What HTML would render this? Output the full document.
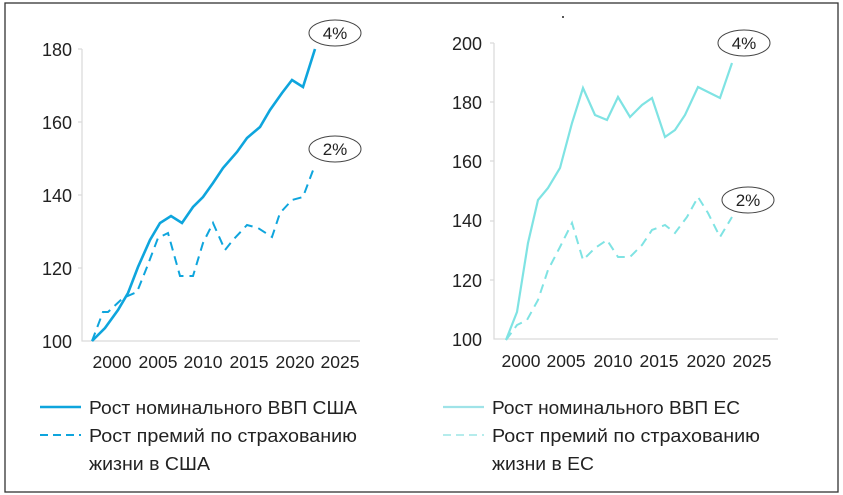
<!DOCTYPE html>
<html><head><meta charset="utf-8"><style>
html,body{margin:0;padding:0;background:#fff;}
svg{display:block;font-family:"Liberation Sans",sans-serif;}
</style></head><body>
<svg width="843" height="495" viewBox="0 0 843 495" xmlns="http://www.w3.org/2000/svg">
<rect x="5" y="3" width="833" height="489" fill="#fff" stroke="#333" stroke-width="1.3"/>
<g stroke="#d9d9d9" stroke-width="1.2" fill="none">
<path d="M82 49 V341 H360"/><path d="M78 49H82M78 122H82M78 195H82M78 268H82"/>
<path d="M494 43 V339 H778"/><path d="M490 43H494M490 102H494M490 161H494M490 221H494M490 280H494"/>
</g>
<g font-size="18" fill="#222" text-anchor="end">
<text x="72" y="56">180</text><text x="72" y="129">160</text><text x="72" y="202">140</text><text x="72" y="275">120</text><text x="72" y="348">100</text>
<text x="482" y="50">200</text><text x="482" y="109">180</text><text x="482" y="168">160</text><text x="482" y="227">140</text><text x="482" y="287">120</text><text x="482" y="346">100</text>
</g>
<g font-size="17.5" fill="#222" text-anchor="middle">
<text x="112" y="368">2000</text><text x="158" y="368">2005</text><text x="203" y="368">2010</text><text x="249" y="368">2015</text><text x="295" y="368">2020</text><text x="340" y="368">2025</text>
<text x="521" y="367">2000</text><text x="566" y="367">2005</text><text x="613" y="367">2010</text><text x="659" y="367">2015</text><text x="706" y="367">2020</text><text x="752" y="367">2025</text>
</g>
<polyline fill="none" stroke="#0ea5dd" stroke-width="2.6" points="92,341 105,328 118,310 128,293 138,267 150,240 160,223 171,216 182,223 193,207 203,197 213,183 223,168 237,152 247,138 260,127 270,110 282,93 292,80 303,87 315,49"/>
<polyline fill="none" stroke="#0ea5dd" stroke-width="2" stroke-dasharray="9,6" points="92,341 103,312 108,312 123,298 137,292 147,267 158,238 168,233 180,276 193,276 203,243 213,223 225,250 233,240 247,225 258,228 272,237 280,213 292,200 303,197 315,165"/>
<polyline fill="none" stroke="#7fe3e3" stroke-width="2.2" points="506,340 517,312 528,243 538,200 548,188 560,168 572,123 583,88 595,115 607,120 618,97 630,117 642,105 652,98 665,137 675,130 685,115 698,87 710,93 720,98 732,63"/>
<polyline fill="none" stroke="#7fe3e3" stroke-width="2" stroke-dasharray="9,6" points="506,340 517,325 527,320 538,300 548,270 560,247 572,223 583,260 595,248 607,240 618,257 630,257 642,245 652,230 665,225 675,233 687,217 698,197 708,213 720,237 732,217"/>
<g fill="#fff" stroke="#444" stroke-width="1">
<ellipse cx="335" cy="33" rx="26" ry="13"/><ellipse cx="335" cy="149" rx="26" ry="13"/>
<ellipse cx="744" cy="43" rx="26" ry="13"/><ellipse cx="748" cy="200" rx="26" ry="13"/>
</g>
<g font-size="17" fill="#222" text-anchor="middle">
<text x="335" y="39">4%</text><text x="335" y="155">2%</text><text x="744" y="49">4%</text><text x="748" y="206">2%</text>
</g>
<circle cx="563" cy="17" r="1" fill="#222"/>
<line x1="40" y1="407" x2="81" y2="407" stroke="#0ea5dd" stroke-width="2.6"/>
<line x1="40" y1="435" x2="81" y2="435" stroke="#0ea5dd" stroke-width="2" stroke-dasharray="8,5"/>
<line x1="443" y1="407" x2="484" y2="407" stroke="#9fe3e8" stroke-width="2.2"/>
<line x1="443" y1="435" x2="484" y2="435" stroke="#b5ecec" stroke-width="2" stroke-dasharray="8,5"/>
<g font-size="18" fill="#222">
<text x="89" y="414" textLength="268" lengthAdjust="spacingAndGlyphs">Рост номинального ВВП США</text>
<text x="89" y="442" textLength="268" lengthAdjust="spacingAndGlyphs">Рост премий по страхованию</text>
<text x="89" y="470" textLength="121" lengthAdjust="spacingAndGlyphs">жизни в США</text>
<text x="492" y="414" textLength="248" lengthAdjust="spacingAndGlyphs">Рост номинального ВВП ЕС</text>
<text x="492" y="442" textLength="268" lengthAdjust="spacingAndGlyphs">Рост премий по страхованию</text>
<text x="492" y="470" textLength="102" lengthAdjust="spacingAndGlyphs">жизни в ЕС</text>
</g>
</svg>
</body></html>
